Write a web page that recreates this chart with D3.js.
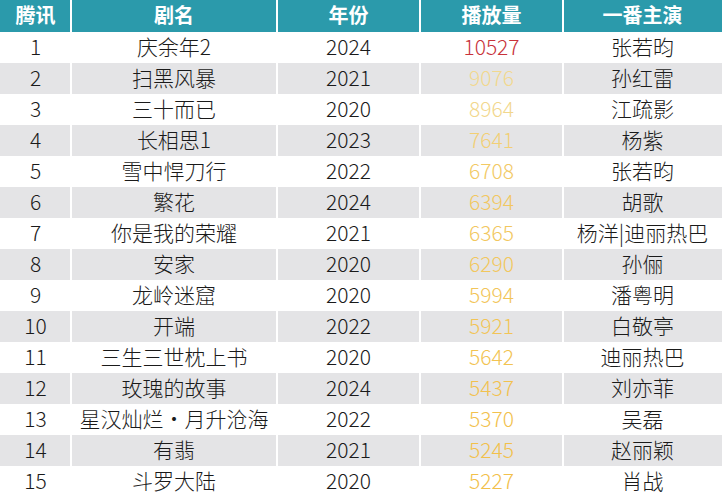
<!DOCTYPE html><html><head><meta charset="utf-8"><script src="https://cdn.jsdelivr.net/npm/d3@7"></script>
<style>body{margin:0;background:#fff}</style></head><body><svg id="c" width="722" height="497"></svg>
<script>
const headers=["腾讯","剧名","年份","播放量","一番主演"];
const ranks=[1,2,3,4,5,6,7,8,9,10,11,12,13,14,15];
const titles=["庆余年2","扫黑风暴","三十而已","长相思1","雪中悍刀行","繁花","你是我的荣耀","安家","龙岭迷窟","开端","三生三世枕上书","玫瑰的故事","星汉灿烂·月升沧海","有翡","斗罗大陆"];
const years=[2024,2021,2020,2023,2022,2024,2021,2020,2020,2022,2020,2024,2022,2021,2020];
const plays=[10527,9076,8964,7641,6708,6394,6365,6290,5994,5921,5642,5437,5370,5245,5227];
const actors=["张若昀","孙红雷","江疏影","杨紫","张若昀","胡歌","杨洋|迪丽热巴","孙俪","潘粤明","白敬亭","迪丽热巴","刘亦菲","吴磊","赵丽颖","肖战"];
const svg=d3.select("#c");
const colEdges=[0,71,277,420,563,722];
const headH=32,rowH=31;
const y=d3.scaleBand().domain(ranks).range([headH,headH+rowH*15]).padding(0);
const color=d3.scaleLinear().domain([5227,9076,10527]).range(["#f2c04a","#f2d88e","#c8323a"]);
const font="'Noto Sans CJK SC','Noto Sans',sans-serif";
svg.append("rect").attr("x",0).attr("y",0).attr("width",722).attr("height",headH).attr("fill","#2b9aab");
headers.forEach((h,i)=>svg.append("text").attr("x",(colEdges[i]+colEdges[i+1])/2).attr("y",headH/2).attr("dy","0.35em").attr("text-anchor","middle").attr("fill","#fff").attr("font-weight","bold").attr("font-size",20).attr("font-family",font).text(h));
ranks.forEach((r,k)=>{
  if(k%2===1) svg.append("rect").attr("x",0).attr("y",y(r)).attr("width",722).attr("height",rowH).attr("fill","#e4e4e6");
  const vals=[r,titles[k],years[k],plays[k],actors[k]];
  vals.forEach((v,i)=>svg.append("text").attr("x",(colEdges[i]+colEdges[i+1])/2).attr("y",y(r)+rowH/2).attr("dy","0.36em").attr("text-anchor","middle").attr("font-size",21).attr("font-weight",300).attr("font-family",font).attr("fill",i===3?color(v):"#1a1a1a").text(v));
});
colEdges.slice(1,5).forEach(x=>svg.append("line").attr("x1",x).attr("x2",x).attr("y1",0).attr("y2",497).attr("stroke","#fff").attr("stroke-width",2));
</script></body></html>
